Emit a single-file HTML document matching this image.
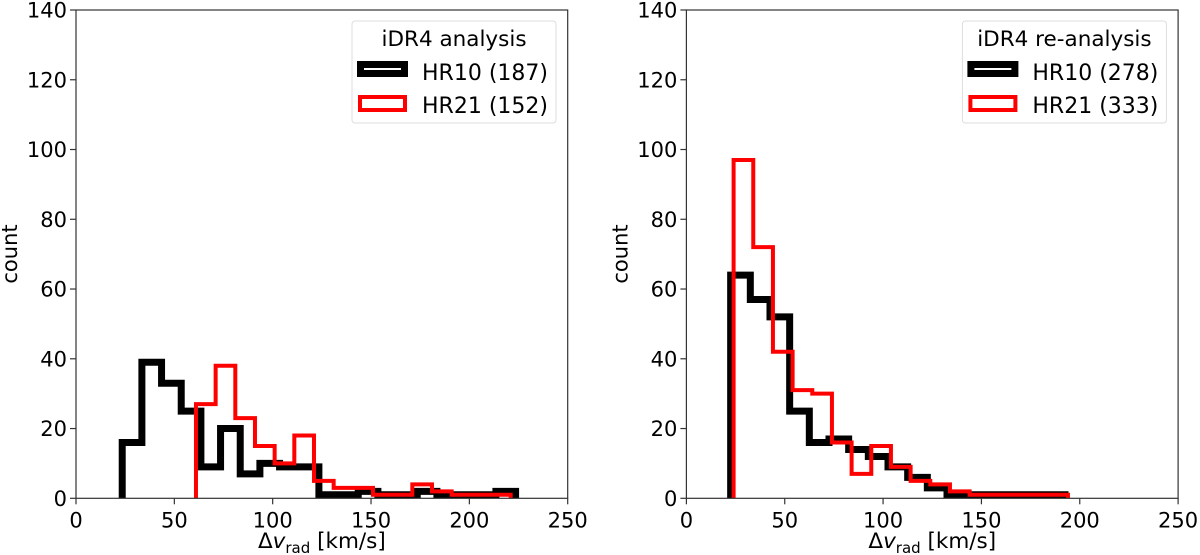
<!DOCTYPE html>
<html><head><meta charset="utf-8"><style>
html,body{margin:0;padding:0;background:#fff;}
svg{display:block;font-family:"DejaVu Sans","Liberation Sans",sans-serif;}
</style></head><body>
<svg id="chart" width="1200" height="555" viewBox="0 0 1200 555" xmlns="http://www.w3.org/2000/svg"></svg>
<script>
// Left panel data (iDR4 analysis)
const leftBlackStart = 23.5;
const leftBlackWidth = 10;
const leftBlackCounts = [16,39,33,25,9,20,7,10,9,9,1,1,2,1,1,2,1,1,1,2];
const leftRedStart = 61;
const leftRedWidth = 10;
const leftRedCounts = [27,38,23,15,10,18,5,3,3,1,1,4,2,1,1,1];
// Right panel data (iDR4 re-analysis)
const rightBlackStart = 22.5;
const rightBlackWidth = 10;
const rightBlackCounts = [64,57,52,25,16,17,14,12,9,6,3,1,1,1,1,1,1];
const rightRedStart = 24;
const rightRedWidth = 10;
const rightRedCounts = [97,72,42,31,30,16,7,15,9,5,4,2,1,1,1,1,1];
const xTicks = [0,50,100,150,200,250];
const yTicks = [0,20,40,60,80,100,120,140];
const leftLegend = ["iDR4 analysis","HR10 (187)","HR21 (152)"];
const rightLegend = ["iDR4 re-analysis","HR10 (278)","HR21 (333)"];

const NS = "http://www.w3.org/2000/svg";
const svg = document.getElementById("chart");
function mk(tag, attrs, parent){
  const e = document.createElementNS(NS, tag);
  for (const k in attrs) e.setAttribute(k, attrs[k]);
  (parent||svg).appendChild(e);
  return e;
}
const AX_W = 491.7, Y0 = 498.3, Y1 = 10;
function drawPanel(ox, name, bStart, bW, bCounts, rStart, rW, rCounts, legend){
  const g = mk("g", {});
  
  
  const xs = v => ox + v * AX_W / 250;
  const ys = v => Y0 - v * (Y0 - Y1) / 140;
  function step(start, w, counts, color, sw, nm){
    let d = "M" + xs(start) + "," + ys(0);
    counts.forEach((c,i)=>{
      d += " L" + xs(start + i*w) + "," + ys(c) + " L" + xs(start + (i+1)*w) + "," + ys(c);
    });
    d += " L" + xs(start + counts.length*w) + "," + ys(0);
    const p = mk("path", {d:d, fill:"none", stroke:color, "stroke-width":sw, "stroke-linejoin":"miter"}, g);
    
    
  }
  step(bStart, bW, bCounts, "#000", 7, "hr10-histogram");
  step(rStart, rW, rCounts, "#ff0000", 4, "hr21-histogram");
  const frame = mk("rect", {x:ox, y:Y1, width:AX_W, height:Y0-Y1, fill:"none", stroke:"#333", "stroke-width":1.2}, g);
  
  
  xTicks.forEach(t=>{
    mk("line", {x1:xs(t), x2:xs(t), y1:Y0, y2:Y0+6, stroke:"#333", "stroke-width":1.2}, g);
    const tx = mk("text", {x:xs(t), y:Y0+29, "font-size":21, "text-anchor":"middle", fill:"#000"}, g);
    tx.textContent = t;
    
    
  });
  yTicks.forEach(t=>{
    mk("line", {x1:ox-6, x2:ox, y1:ys(t), y2:ys(t), stroke:"#333", "stroke-width":1.2}, g);
    const tx = mk("text", {x:ox-9, y:ys(t)+7.5, "font-size":21, "text-anchor":"end", fill:"#000"}, g);
    tx.textContent = t;
    
    
  });
  const yl = mk("text", {x:0, y:0, "font-size":21, "text-anchor":"middle", transform:"translate("+(ox-59)+",254) rotate(-90)"}, g);
  yl.textContent = "count";
  
  
  const xl = mk("text", {x:ox+AX_W/2, y:548, "font-size":21.5, "text-anchor":"middle"}, g);
  
  
  xl.innerHTML = 'Δ<tspan font-style="italic">v</tspan><tspan font-size="15" dy="5">rad</tspan><tspan dy="-5"> [km/s]</tspan>';
  // legend
  const lg = mk("g", {}, g);
  
  
  const lx = ox + 276;
  mk("rect", {x:lx, y:21, width:204, height:102, rx:3, fill:"#fff", "fill-opacity":0.8, stroke:"#ddd", "stroke-width":1}, lg);
  const tt = mk("text", {x:lx+102, y:46, "font-size":21.5, "text-anchor":"middle"}, lg);
  tt.textContent = legend[0];
  
  
  mk("rect", {x:lx+8.5, y:64.5, width:44, height:9, fill:"none", stroke:"#000", "stroke-width":7}, lg);
  mk("rect", {x:lx+8, y:97, width:45, height:13, fill:"none", stroke:"#ff0000", "stroke-width":4}, lg);
  const e1 = mk("text", {x:lx+70, y:80, "font-size":22}, lg);
  e1.textContent = legend[1];
  
  
  const e2 = mk("text", {x:lx+70, y:113, "font-size":22}, lg);
  e2.textContent = legend[2];
  
  
}
drawPanel(76, "left-panel-idr4-analysis", leftBlackStart, leftBlackWidth, leftBlackCounts, leftRedStart, leftRedWidth, leftRedCounts, leftLegend);
drawPanel(686.4, "right-panel-idr4-reanalysis", rightBlackStart, rightBlackWidth, rightBlackCounts, rightRedStart, rightRedWidth, rightRedCounts, rightLegend);
</script>
</body></html>
